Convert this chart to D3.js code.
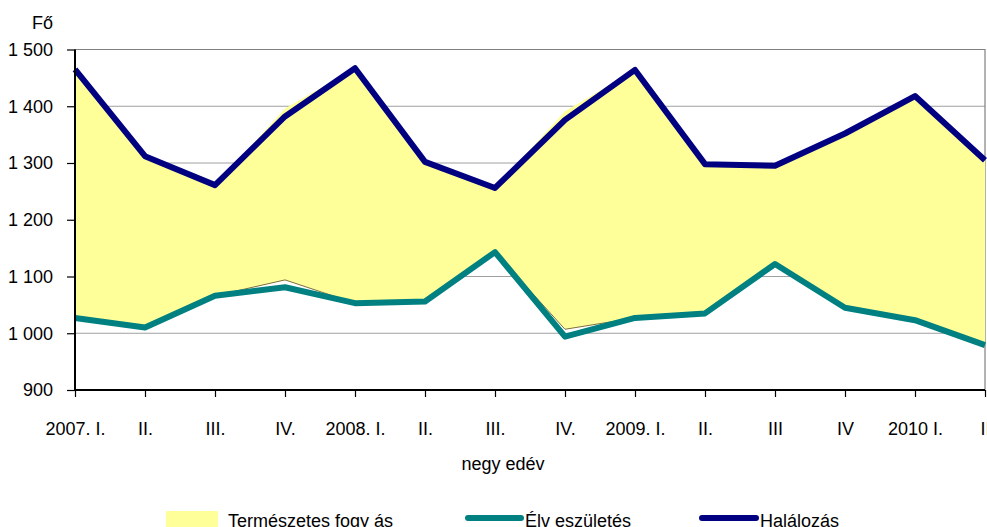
<!DOCTYPE html>
<html>
<head>
<meta charset="utf-8">
<script src="https://cdn.jsdelivr.net/npm/d3@7"></script>
<style>
  body { margin: 0; background: #fff; }
  svg { display: block; font-family: "Liberation Sans", Arial, sans-serif; }
</style>
</head>
<body>
<svg id="chart" width="987" height="527"></svg>
<script>
// negyedévek
const quarters = ["2007. I.", "II.", "III.", "IV.", "2008. I.", "II.", "III.", "IV.",
  "2009. I.", "II.", "III", "IV", "2010 I.", "II"];
const halalozas = [1465, 1312, 1261, 1382, 1467, 1302, 1256, 1376, 1464, 1298, 1295, 1352, 1418, 1305];
const elveszuletes = [1027, 1010, 1066, 1081, 1053, 1056, 1143, 994, 1027, 1035, 1122, 1045, 1023, 979];
// the stacked area uses its own base + decrease values
const teruletAlap = [1027, 1010, 1066, 1094, 1053, 1056, 1143, 1007, 1027, 1035, 1122, 1045, 1023, 979];
const fogyas = [438, 302, 195, 302, 414, 246, 113, 384, 437, 263, 173, 307, 395, 326];
const yTicks = [900, 1000, 1100, 1200, 1300, 1400, 1500];

const COLORS = { yellow: "#FFFF99", teal: "#008080", navy: "#000080", grid: "#a0a0a0" };
const FS = 18

let svg = d3.select("#chart")
let plotL = 75, plotR = 985, plotT = 49.5, plotB = 390

let x = d3.scalePoint().domain(d3.range(quarters.length)).range([plotL, plotR])
let y = d3.scaleLinear().domain([900, 1500]).range([plotB, plotT])
let fmt = (v) => d3.format(",")(v).replace(",", " ")

// gridlines
svg.append("g")
  .selectAll("line")
  .data(yTicks.filter(t => t > 900 && t < 1500))
  .join("line")
  .attr("x1", plotL).attr("x2", plotR)
  .attr("y1", d => y(d)).attr("y2", d => y(d))
  .attr("stroke", COLORS.grid)
  .attr("stroke-width", 1)

// frame top + right
svg.append("path")
  .attr("d", `M${plotL},${y(1500)}H${plotR}V${plotB}`)
  .attr("fill", "none")
  .attr("stroke", "#808080")
  .attr("stroke-width", 1.2)

// természetes fogyás area
let areaData = teruletAlap.map((b, i) => ({ i: i, b: b, t: b + fogyas[i] }))
svg.append("path")
  .datum(areaData)
  .attr("fill", COLORS.yellow)
  .attr("d", d3.area().x(d => x(d.i)).y0(d => y(d.b)).y1(d => y(d.t)))

svg.append("path")
  .datum(areaData)
  .attr("fill", "none")
  .attr("stroke", "#7a7040")
  .attr("stroke-width", 1)
  .attr("d", d3.line().x(d => x(d.i)).y(d => y(d.b)))

// lines
let line = d3.line().x((d, i) => x(i)).y(d => y(d))
svg.append("path")
  .datum(elveszuletes)
  .attr("fill", "none")
  .attr("stroke", COLORS.teal)
  .attr("stroke-width", 6)
  .attr("stroke-linejoin", "round")
  .attr("d", line)

svg.append("path")
  .datum(halalozas)
  .attr("fill", "none")
  .attr("stroke", COLORS.navy)
  .attr("stroke-width", 6)
  .attr("stroke-linejoin", "round")
  .attr("d", line)

// y axis
let yAxis = svg.append("g")
  .attr("transform", `translate(${plotL},0)`)
  .call(d3.axisLeft(y).tickValues(yTicks).tickSize(8).tickPadding(14).tickFormat(fmt))
yAxis.select(".domain").attr("stroke", "#000").attr("stroke-width", 2).attr("d", `M0,${plotT}V${plotB}`)
yAxis.selectAll(".tick line").attr("stroke", "#000").attr("stroke-width", 1.2)
yAxis.selectAll("text").attr("font-size", FS).attr("fill", "#000").attr("font-family", null)

// x axis
let xAxis = svg.append("g")
  .attr("transform", `translate(0,${plotB})`)
  .call(d3.axisBottom(x).tickSize(7).tickPadding(33).tickFormat(i => quarters[i]))
xAxis.select(".domain").attr("stroke", "#000").attr("stroke-width", 2).attr("d", `M${plotL},0H${plotR}`)
xAxis.selectAll(".tick line").attr("stroke", "#000").attr("stroke-width", 1.2)
xAxis.selectAll("text").attr("font-size", FS).attr("fill", "#000").attr("font-family", null)
  .attr("y", 45).attr("dy", null)

// axis titles
svg.append("text").attr("x", 53).attr("y", 29).attr("text-anchor", "end")
  .attr("font-size", FS).text("Fő")
svg.append("text").attr("x", 503).attr("y", 470).attr("text-anchor", "middle")
  .attr("font-size", FS).text("negy edév")

// legend
let legend = svg.append("g")
legend.append("rect").attr("x", 166).attr("y", 511).attr("width", 52).attr("height", 20).attr("fill", COLORS.yellow)
legend.append("text").attr("x", 228).attr("y", 527).attr("font-size", FS).text("Természetes fogy ás")
legend.append("line").attr("x1", 468).attr("x2", 521).attr("y1", 518).attr("y2", 518)
  .attr("stroke", COLORS.teal).attr("stroke-width", 6).attr("stroke-linecap", "round")
legend.append("text").attr("x", 525).attr("y", 527).attr("font-size", FS).text("Élv eszületés")
legend.append("line").attr("x1", 702).attr("x2", 756).attr("y1", 518).attr("y2", 518)
  .attr("stroke", COLORS.navy).attr("stroke-width", 6).attr("stroke-linecap", "round")
legend.append("text").attr("x", 760).attr("y", 527).attr("font-size", FS).text("Halálozás")
</script>
</body>
</html>
